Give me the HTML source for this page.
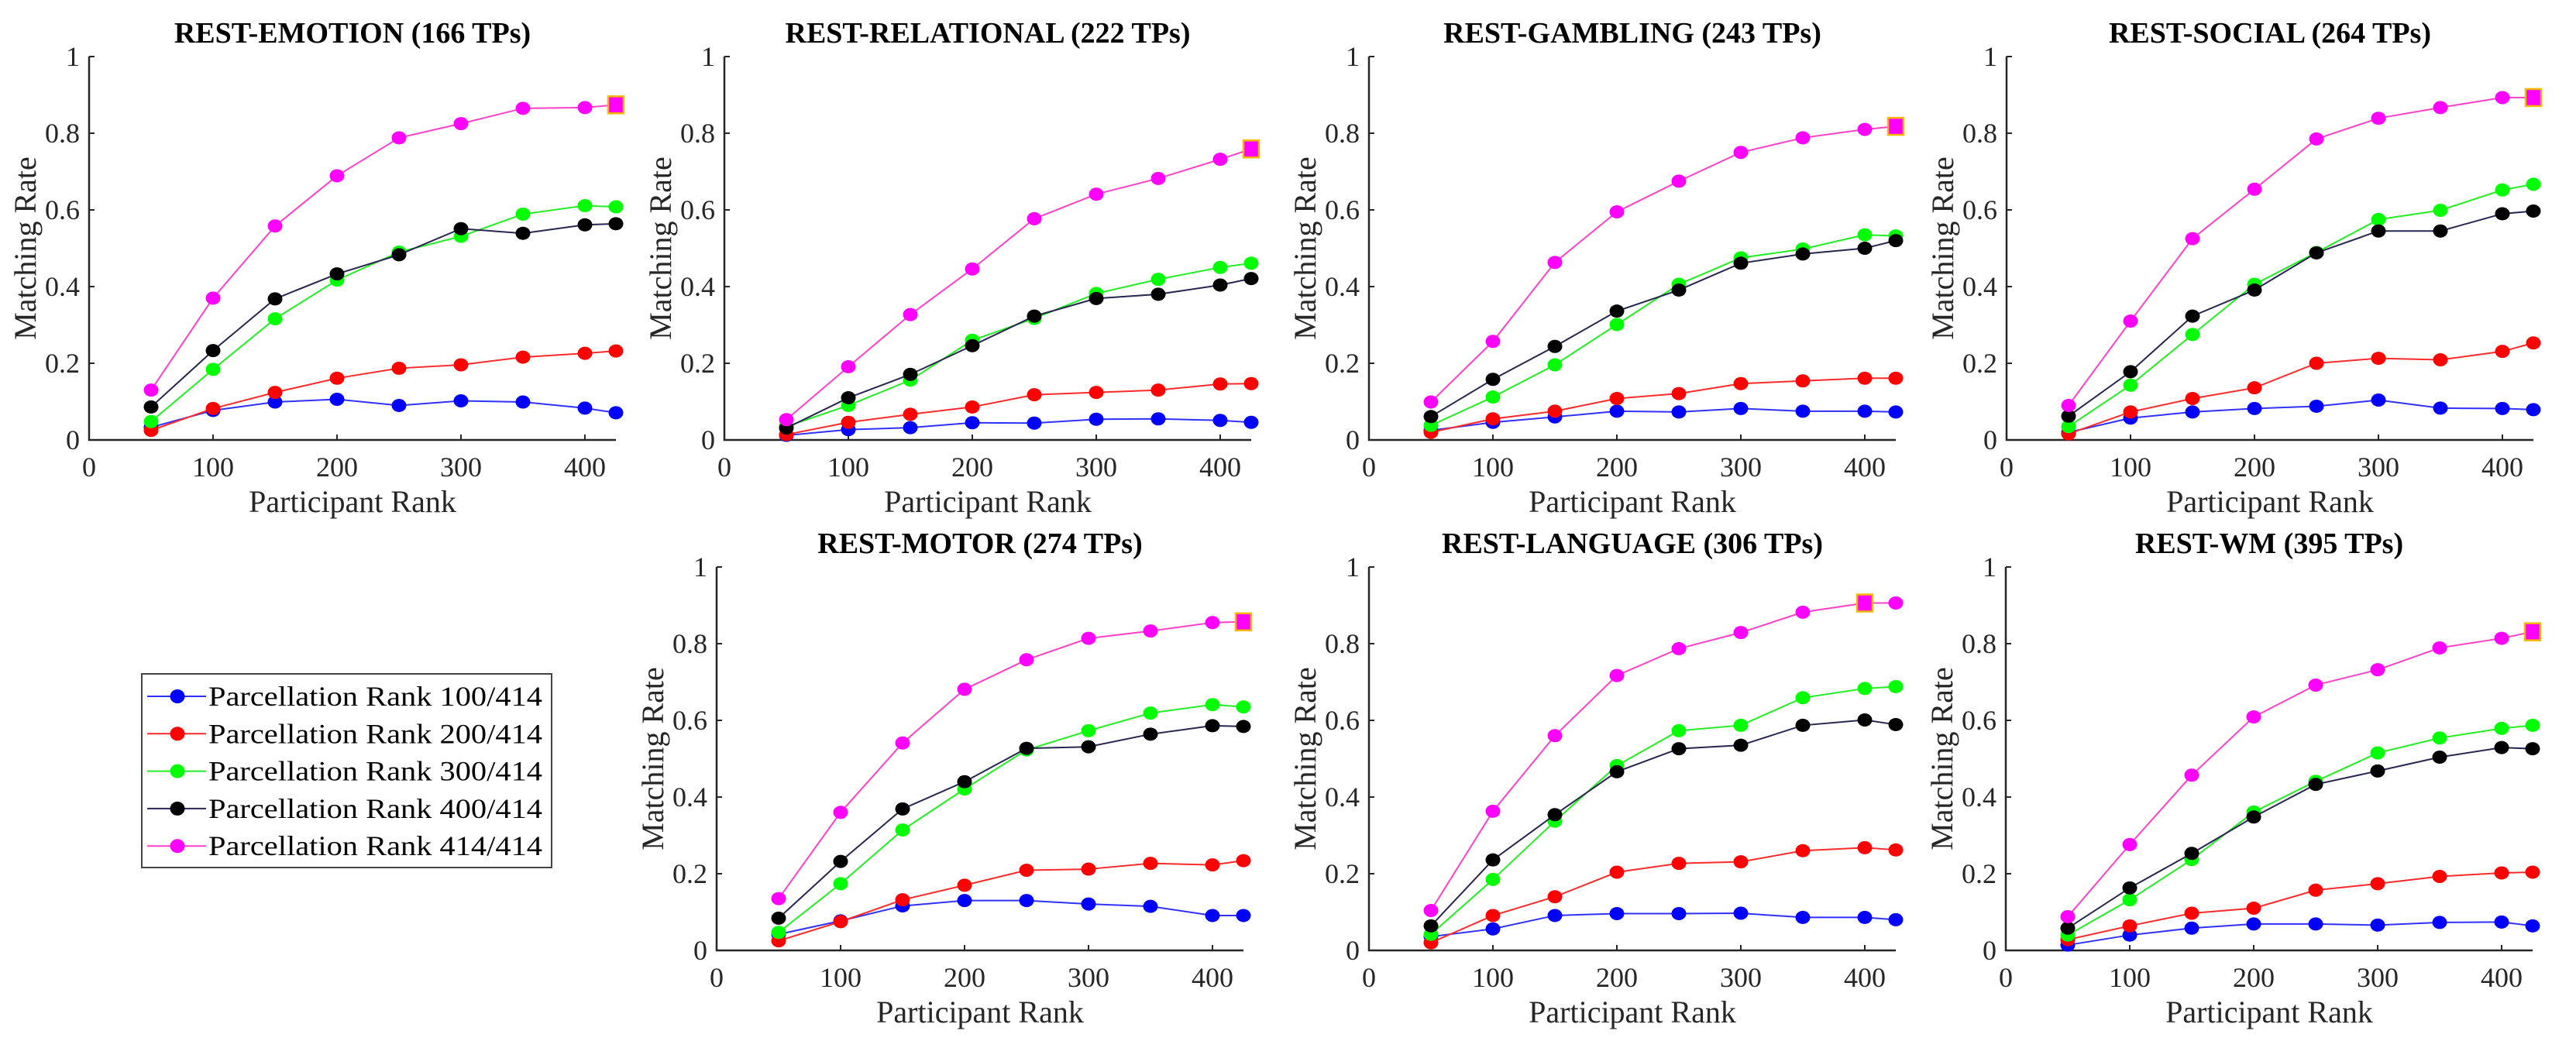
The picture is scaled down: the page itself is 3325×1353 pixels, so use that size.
<!DOCTYPE html>
<html><head><meta charset="utf-8"><style>
html,body{margin:0;padding:0;background:#fff;}
svg{display:block;}
svg text{font-family:"Liberation Serif","Times New Roman",serif;}
</style></head><body>
<svg id="fig" width="3325" height="1353" viewBox="0 0 3325 1353" xmlns="http://www.w3.org/2000/svg" font-family="Liberation Serif, serif"></svg>
<script>
const xCats = [50,100,150,200,250,300,350,400,425];
const seriesNames = ["Parcellation Rank 100/414","Parcellation Rank 200/414","Parcellation Rank 300/414","Parcellation Rank 400/414","Parcellation Rank 414/414"];
const panelTitles = ["REST-EMOTION (166 TPs)","REST-RELATIONAL (222 TPs)","REST-GAMBLING (243 TPs)","REST-SOCIAL (264 TPs)","REST-MOTOR (274 TPs)","REST-LANGUAGE (306 TPs)","REST-WM (395 TPs)"];
const xTicks = [0,100,200,300,400];
const yTicks = [0,0.2,0.4,0.6,0.8,1];
const yTickLabels = ["0","0.2","0.4","0.6","0.8","1"];
const squareIndex = [8,8,8,8,8,7,8];
const emotionBlue=[0.033,0.077,0.099,0.106,0.090,0.102,0.099,0.083,0.071];
const emotionRed=[0.025,0.082,0.124,0.161,0.187,0.196,0.216,0.226,0.232];
const emotionGreen=[0.048,0.184,0.316,0.417,0.490,0.531,0.589,0.611,0.608];
const emotionBlack=[0.086,0.233,0.368,0.433,0.483,0.551,0.539,0.561,0.564];
const emotionMagenta=[0.130,0.370,0.558,0.689,0.788,0.825,0.865,0.867,0.874];
const relationalBlue=[0.012,0.027,0.032,0.045,0.044,0.054,0.055,0.051,0.046];
const relationalRed=[0.014,0.046,0.067,0.086,0.118,0.124,0.130,0.146,0.147];
const relationalGreen=[0.035,0.090,0.156,0.260,0.317,0.382,0.419,0.450,0.461];
const relationalBlack=[0.031,0.110,0.171,0.246,0.323,0.369,0.380,0.404,0.421];
const relationalMagenta=[0.053,0.191,0.327,0.446,0.577,0.641,0.682,0.732,0.759];
const gamblingBlue=[0.025,0.046,0.060,0.075,0.073,0.082,0.075,0.075,0.073];
const gamblingRed=[0.020,0.055,0.075,0.108,0.121,0.147,0.154,0.161,0.161];
const gamblingGreen=[0.038,0.112,0.196,0.301,0.406,0.475,0.498,0.535,0.532];
const gamblingBlack=[0.061,0.158,0.244,0.336,0.391,0.461,0.485,0.500,0.520];
const gamblingMagenta=[0.099,0.257,0.463,0.595,0.675,0.750,0.788,0.810,0.818];
const socialBlue=[0.020,0.057,0.073,0.082,0.088,0.104,0.083,0.082,0.079];
const socialRed=[0.016,0.073,0.108,0.136,0.200,0.213,0.209,0.231,0.253];
const socialGreen=[0.035,0.143,0.275,0.406,0.489,0.575,0.599,0.652,0.667];
const socialBlack=[0.062,0.178,0.323,0.391,0.488,0.545,0.545,0.590,0.597];
const socialMagenta=[0.090,0.310,0.525,0.654,0.785,0.839,0.867,0.893,0.893];
const motorBlue=[0.042,0.077,0.116,0.130,0.130,0.121,0.115,0.091,0.091];
const motorRed=[0.025,0.075,0.132,0.170,0.209,0.212,0.227,0.223,0.234];
const motorGreen=[0.047,0.174,0.314,0.421,0.523,0.573,0.619,0.641,0.635];
const motorBlack=[0.084,0.232,0.369,0.440,0.527,0.531,0.564,0.586,0.584];
const motorMagenta=[0.135,0.360,0.541,0.681,0.758,0.814,0.833,0.855,0.857];
const languageBlue=[0.036,0.056,0.091,0.096,0.096,0.097,0.086,0.086,0.080];
const languageRed=[0.020,0.091,0.140,0.204,0.227,0.231,0.260,0.268,0.262];
const languageGreen=[0.042,0.185,0.337,0.482,0.573,0.587,0.659,0.683,0.688];
const languageBlack=[0.064,0.236,0.354,0.466,0.526,0.535,0.587,0.601,0.589];
const languageMagenta=[0.104,0.363,0.560,0.717,0.787,0.829,0.882,0.906,0.906];
const wmBlue=[0.014,0.040,0.058,0.069,0.069,0.066,0.073,0.074,0.064];
const wmRed=[0.028,0.064,0.097,0.110,0.157,0.174,0.193,0.202,0.204];
const wmGreen=[0.040,0.132,0.237,0.361,0.441,0.515,0.554,0.579,0.587];
const wmBlack=[0.058,0.163,0.253,0.348,0.433,0.468,0.504,0.529,0.526];
const wmMagenta=[0.088,0.276,0.457,0.609,0.692,0.732,0.789,0.814,0.831];

const panelData=[
 [emotionBlue,emotionRed,emotionGreen,emotionBlack,emotionMagenta],
 [relationalBlue,relationalRed,relationalGreen,relationalBlack,relationalMagenta],
 [gamblingBlue,gamblingRed,gamblingGreen,gamblingBlack,gamblingMagenta],
 [socialBlue,socialRed,socialGreen,socialBlack,socialMagenta],
 [motorBlue,motorRed,motorGreen,motorBlack,motorMagenta],
 [languageBlue,languageRed,languageGreen,languageBlack,languageMagenta],
 [wmBlue,wmRed,wmGreen,wmBlack,wmMagenta]];

const fills=["#0000ff","#ff0000","#00ff00","#000000","#ff00ff"];
const lineCols=["#3030ff","#ff2a2a","#22ee22","#262650","#ff40c8"];
const slug=["blue","red","green","black","magenta"];
const layout=[[115,73],[935,73],[1767,73],[2590,73],[925,732],[1767,732],[2589,732]];
const W=680,H=495,XMAX=425;
const NS="http://www.w3.org/2000/svg";
const svg=document.getElementById('fig');
function mk(tag,attrs,parent){const e=document.createElementNS(NS,tag);for(const k in attrs)e.setAttribute(k,attrs[k]);(parent||svg).appendChild(e);return e;}

panelData.forEach((series,p)=>{
  const [x0,y1]=layout[p];const y0=y1+H;
  const sx=v=>x0+v/XMAX*W, sy=v=>y0-v*H;
  const g=mk('g',{});
  
  
  const t=mk('text',{x:x0+W/2,y:y1-18,'text-anchor':'middle','font-size':38,'font-weight':'bold',fill:'#000'},g);
  t.textContent=panelTitles[p];
  
  
  const ax=mk('path',{d:`M${x0},${y1} L${x0},${y0} L${x0+W},${y0}`,stroke:'#262626','stroke-width':2.5,fill:'none'},g);
  
  
  yTicks.forEach((v,i)=>{
    mk('line',{x1:x0,x2:x0+7,y1:sy(v),y2:sy(v),stroke:'#262626','stroke-width':2},g);
    const l=mk('text',{x:x0-12,y:sy(v)+12,'text-anchor':'end','font-size':36,fill:'#262626'},g);
    l.textContent=yTickLabels[i];
    
    
  });
  xTicks.forEach(v=>{
    mk('line',{x1:sx(v),x2:sx(v),y1:y0,y2:y0-7,stroke:'#262626','stroke-width':2},g);
    const l=mk('text',{x:sx(v),y:y0+47,'text-anchor':'middle','font-size':36,fill:'#262626'},g);
    l.textContent=String(v);
    
    
  });
  const xl=mk('text',{x:x0+W/2,y:y0+93,'text-anchor':'middle','font-size':40,fill:'#262626'},g);
  xl.textContent='Participant Rank';
  
  
  const yl=mk('text',{x:0,y:0,'text-anchor':'middle','font-size':40,fill:'#262626',transform:`translate(${x0-69},${(y0+y1)/2}) rotate(-90)`},g);
  yl.textContent='Matching Rate';
  
  
  series.forEach((vals,s)=>{
    const pts=vals.map((v,i)=>sx(xCats[i])+','+sy(v)).join(' ');
    const pl=mk('polyline',{points:pts,fill:'none',stroke:lineCols[s],'stroke-width':2},g);
    
    
    vals.forEach((v,i)=>{
      if(s===4 && i===squareIndex[p]){
        const r=mk('rect',{x:sx(xCats[i])-10,y:sy(v)-11,width:20,height:22,fill:'#ff00ff',stroke:'#f5b800','stroke-width':2.5},g);
        
        
      } else {
        const c=mk('ellipse',{cx:sx(xCats[i]),cy:sy(v),rx:9.5,ry:8.5,fill:fills[s]},g);
        
        
      }
    });
  });
});

const lg=mk('g',{});


mk('rect',{x:183,y:870,width:529,height:250,fill:'#fff',stroke:'#444','stroke-width':2},lg);
seriesNames.forEach((n,s)=>{
  const cy=899+s*48.3;
  const e=mk('g',{},lg);
  
  
  mk('line',{x1:190,x2:266,y1:cy,y2:cy,stroke:lineCols[s],'stroke-width':2},e);
  mk('ellipse',{cx:229,cy:cy,rx:9.5,ry:9,fill:fills[s]},e);
  const t=mk('text',{x:269,y:cy+12,'font-size':36,fill:'#000',textLength:431,lengthAdjust:'spacingAndGlyphs'},e);
  t.textContent=n;
});
</script>
</body></html>
